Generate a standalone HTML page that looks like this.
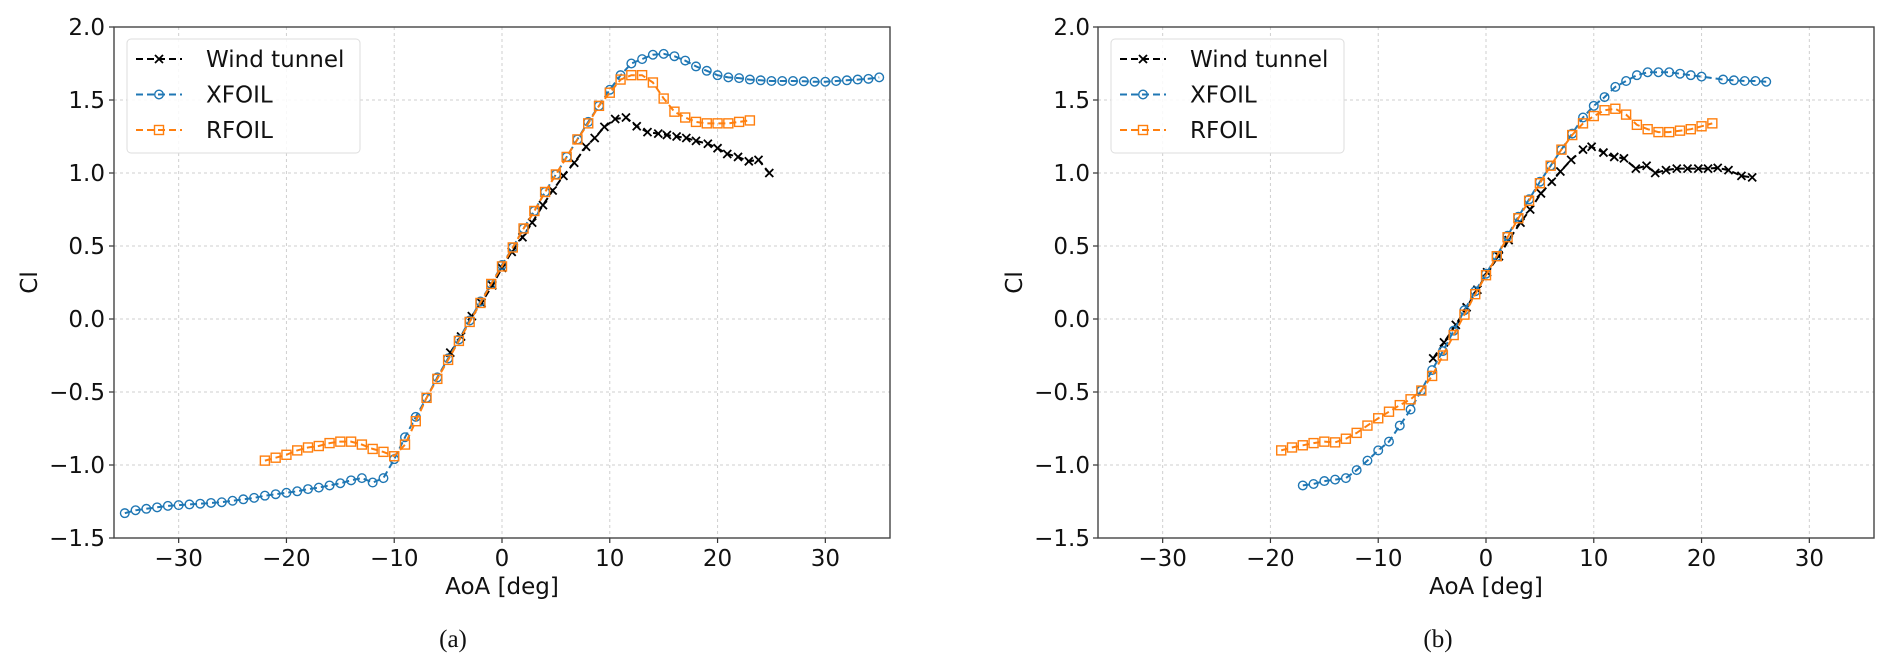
<!DOCTYPE html>
<html><head><meta charset="utf-8">
<style>
html,body{margin:0;padding:0;background:#fff;}
svg{display:block;font-family:"DejaVu Sans","Liberation Sans",sans-serif;}
</style></head>
<body>
<svg id="fig" width="1892" height="670" viewBox="0 0 1892 670" xmlns="http://www.w3.org/2000/svg"></svg>
<script>
// ---- data: panel (a) ----
const xfoilA_aoa = [-35,-34,-33,-32,-31,-30,-29,-28,-27,-26,-25,-24,-23,-22,-21,-20,-19,-18,-17,-16,-15,-14,-13,-12,-11,-10,-9,-8,-7,-6,-5,-4,-3,-2,-1,0,1,2,3,4,5,6,7,8,9,10,11,12,13,14,15,16,17,18,19,20,21,22,23,24,25,26,27,28,29,30,31,32,33,34,35];
const xfoilA_cl = [-1.33,-1.31,-1.30,-1.29,-1.28,-1.275,-1.27,-1.265,-1.26,-1.255,-1.245,-1.235,-1.225,-1.21,-1.20,-1.19,-1.18,-1.165,-1.155,-1.14,-1.125,-1.105,-1.09,-1.12,-1.09,-0.96,-0.81,-0.67,-0.54,-0.40,-0.27,-0.14,-0.01,0.12,0.24,0.37,0.49,0.62,0.74,0.87,0.99,1.11,1.23,1.35,1.46,1.57,1.67,1.75,1.78,1.81,1.816,1.80,1.77,1.73,1.70,1.67,1.655,1.65,1.64,1.635,1.63,1.63,1.63,1.628,1.625,1.625,1.63,1.635,1.64,1.645,1.655];
const rfoilA_aoa = [-22,-21,-20,-19,-18,-17,-16,-15,-14,-13,-12,-11,-10,-9,-8,-7,-6,-5,-4,-3,-2,-1,0,1,2,3,4,5,6,7,8,9,10,11,12,13,14,15,16,17,18,19,20,21,22,23];
const rfoilA_cl = [-0.97,-0.95,-0.93,-0.90,-0.88,-0.87,-0.85,-0.84,-0.84,-0.86,-0.89,-0.91,-0.94,-0.86,-0.70,-0.54,-0.41,-0.28,-0.15,-0.02,0.11,0.24,0.36,0.49,0.62,0.74,0.87,0.99,1.11,1.23,1.34,1.46,1.55,1.64,1.67,1.67,1.62,1.51,1.42,1.38,1.35,1.34,1.34,1.34,1.35,1.36];
const windA_aoa = [-4.8,-3.8,-2.8,-1.9,-0.9,0,0.9,1.9,2.8,3.8,4.7,5.7,6.7,7.8,8.6,9.5,10.5,11.5,12.5,13.5,14.5,15.3,16.2,17.1,18,19.1,20,20.9,21.9,22.9,23.8,24.8];
const windA_cl = [-0.23,-0.12,0.02,0.11,0.23,0.35,0.46,0.56,0.66,0.78,0.88,0.98,1.07,1.18,1.24,1.316,1.37,1.38,1.32,1.28,1.27,1.26,1.25,1.24,1.22,1.20,1.17,1.13,1.11,1.08,1.09,1.00];
// ---- data: panel (b) ----
const xfoilB_aoa = [-17,-16,-15,-14,-13,-12,-11,-10,-9,-8,-7,-6,-5,-4,-3,-2,-1,0,1,2,3,4,5,6,7,8,9,10,11,12,13,14,15,16,17,18,19,20,22,23,24,25,26];
const xfoilB_cl = [-1.14,-1.13,-1.11,-1.10,-1.09,-1.035,-0.97,-0.90,-0.84,-0.73,-0.62,-0.49,-0.35,-0.22,-0.08,0.06,0.19,0.31,0.43,0.57,0.70,0.82,0.94,1.05,1.16,1.27,1.38,1.46,1.52,1.59,1.63,1.67,1.69,1.69,1.69,1.68,1.67,1.66,1.64,1.635,1.63,1.63,1.625];
const rfoilB_aoa = [-19,-18,-17,-16,-15,-14,-13,-12,-11,-10,-9,-8,-7,-6,-5,-4,-3,-2,-1,0,1,2,3,4,5,6,7,8,9,10,11,12,13,14,15,16,17,18,19,20,21];
const rfoilB_cl = [-0.90,-0.88,-0.865,-0.85,-0.84,-0.845,-0.82,-0.78,-0.73,-0.68,-0.635,-0.59,-0.55,-0.49,-0.39,-0.25,-0.11,0.03,0.17,0.30,0.43,0.56,0.69,0.81,0.93,1.05,1.16,1.26,1.34,1.39,1.43,1.44,1.40,1.33,1.30,1.28,1.28,1.29,1.30,1.32,1.34];
const windB_aoa = [-4.9,-3.9,-2.8,-1.8,-0.8,0.1,1.2,2.1,3.2,4.1,5.1,6.1,6.9,7.9,9.0,9.8,10.9,11.9,12.8,13.9,14.9,15.7,16.7,17.7,18.7,19.7,20.6,21.5,22.5,23.7,24.7];
const windB_cl = [-0.27,-0.16,-0.04,0.08,0.20,0.32,0.43,0.54,0.66,0.75,0.86,0.94,1.01,1.09,1.16,1.18,1.14,1.11,1.10,1.03,1.05,1.00,1.02,1.03,1.03,1.03,1.03,1.035,1.02,0.98,0.97];
const xTicks = [-30,-20,-10,0,10,20,30];
const yTicks = [2.0,1.5,1.0,0.5,0.0,-0.5,-1.0,-1.5];
const seriesNames = ["Wind tunnel","XFOIL","RFOIL"];

const NS = "http://www.w3.org/2000/svg";
const svg = document.getElementById('fig');
function el(tag, attrs, parent){
  const e = document.createElementNS(NS, tag);
  for (const k in attrs) e.setAttribute(k, attrs[k]);
  (parent||svg).appendChild(e);
  return e;
}
const fmt = v => (v<0?"\u2212":"") + Math.abs(v).toFixed(1);
const fmtX = v => (v<0?"\u2212":"") + Math.abs(v);

function marker(g, type, cx, cy, color){
  let m;
  if (type==='x'){
    m = el('path',{d:`M${cx-4},${cy-4}L${cx+4},${cy+4}M${cx-4},${cy+4}L${cx+4},${cy-4}`,stroke:color,'stroke-width':1.8,fill:'none'},g);
  } else if (type==='o'){
    m = el('circle',{cx:cx,cy:cy,r:4.3,stroke:color,'stroke-width':1.4,fill:'none'},g);
  } else {
    m = el('rect',{x:cx-4.5,y:cy-4.5,width:9,height:9,stroke:color,'stroke-width':1.4,fill:'none'},g);
  }
  return m;
}

function panel(key, L, R, T, B, series, ylabX, tickRight, caption, legX){
  const xmin=-36,xmax=36,ymin=-1.5,ymax=2.0;
  const sx = v => L + (v-xmin)/(xmax-xmin)*(R-L);
  const sy = v => B - (v-ymin)/(ymax-ymin)*(B-T);
  const g = el('g',{});
  
  
  xTicks.forEach(t=>{
    const l = el('line',{x1:sx(t),x2:sx(t),y1:T,y2:B,stroke:'#cfcfcf','stroke-width':1,'stroke-dasharray':'3,3'},g);
    
    
    const tk = el('line',{x1:sx(t),x2:sx(t),y1:B,y2:B+5,stroke:'#333','stroke-width':1.2},g);
    
    
    const tx = el('text',{x:sx(t),y:B+28,'text-anchor':'middle','font-size':23,fill:'#111'},g);
    tx.textContent = fmtX(t);
    
    
  });
  yTicks.forEach(t=>{
    const l = el('line',{x1:L,x2:R,y1:sy(t),y2:sy(t),stroke:'#cfcfcf','stroke-width':1,'stroke-dasharray':'3,3'},g);
    
    
    const tk = el('line',{x1:L-5,x2:L,y1:sy(t),y2:sy(t),stroke:'#333','stroke-width':1.2},g);
    
    
    const tx = el('text',{x:tickRight,y:sy(t)+8,'text-anchor':'end','font-size':23,fill:'#111'},g);
    tx.textContent = fmt(t);
    
    
  });
  series.forEach(s=>{
    const sg = el('g',{},g);
    
    
    const d = s.x.map((v,i)=>(i?'L':'M')+sx(v).toFixed(1)+','+sy(s.y[i]).toFixed(1)).join('');
    const p = el('path',{d:d,stroke:s.color,'stroke-width':2,fill:'none','stroke-dasharray':'7,4'},sg);
    
    
    s.x.forEach((v,i)=>{
      const m = marker(sg, s.m, sx(v), sy(s.y[i]), s.color);
      
      
    });
  });
  const fr = el('rect',{x:L,y:T,width:R-L,height:B-T,fill:'none',stroke:'#444','stroke-width':1.4},g);
  
  
  const xt = el('text',{x:(L+R)/2,y:594,'text-anchor':'middle','font-size':23,fill:'#111'},g);
  xt.textContent = 'AoA [deg]';
  
  
  const yt = el('text',{x:0,y:0,'text-anchor':'middle','font-size':23,fill:'#111',transform:`translate(${ylabX},${(T+B)/2}) rotate(-90)`},g);
  yt.textContent = 'Cl';
  
  
  const cap = el('text',{x:caption[0],y:647,'text-anchor':'middle','font-size':25,fill:'#111','font-family':'"Liberation Serif",serif'},g);
  cap.textContent = caption[1];
  
  
  const lg = el('g',{},g);
  
  
  el('rect',{x:legX,y:39,width:233,height:114,rx:4,fill:'#fff','fill-opacity':0.85,stroke:'#ddd','stroke-width':1},lg);
  series.forEach((s,i)=>{
    const yy = 59 + i*35.5;
    const e = el('g',{},lg);
    
    
    el('line',{x1:legX+9,x2:legX+55,y1:yy,y2:yy,stroke:s.color,'stroke-width':2,'stroke-dasharray':'7,4'},e);
    marker(e, s.m, legX+32, yy, s.color);
    const t = el('text',{x:legX+79,y:yy+8,'font-size':23,fill:'#111'},e);
    t.textContent = seriesNames[i];
  });
}

panel('a',114,890,27,538,[
  {id:'wind-tunnel',x:windA_aoa,y:windA_cl,color:'#000',m:'x'},
  {id:'xfoil',x:xfoilA_aoa,y:xfoilA_cl,color:'#1f77b4',m:'o'},
  {id:'rfoil',x:rfoilA_aoa,y:rfoilA_cl,color:'#ff7f0e',m:'s'}
],37,105,[453,'(a)'],127);
panel('b',1098,1874,27,538,[
  {id:'wind-tunnel',x:windB_aoa,y:windB_cl,color:'#000',m:'x'},
  {id:'xfoil',x:xfoilB_aoa,y:xfoilB_cl,color:'#1f77b4',m:'o'},
  {id:'rfoil',x:rfoilB_aoa,y:rfoilB_cl,color:'#ff7f0e',m:'s'}
],1022,1090,[1438,'(b)'],1111);
</script>
</body></html>
